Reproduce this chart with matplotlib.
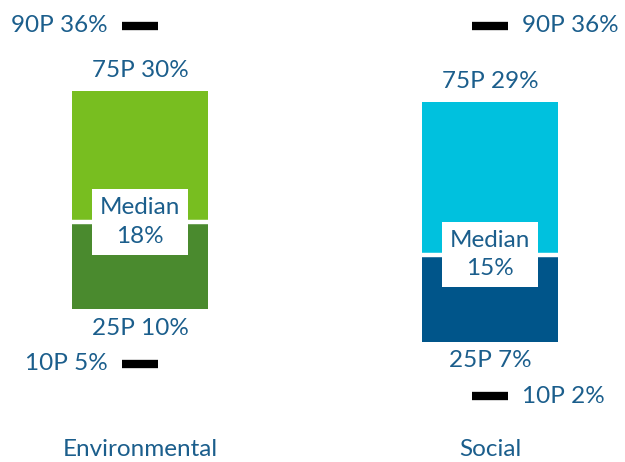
import matplotlib
matplotlib.use("Agg")
import matplotlib.pyplot as plt
import matplotlib.transforms as mtransforms

# data (percent)
categories = ["Environmental", "Social"]
p10 = [5, 2]
p25 = [10, 7]
median = [18, 15]
p75 = [30, 29]
p90 = [36, 36]

low_colors = ["#4a8a2e", "#00558a"]
high_colors = ["#78be20", "#00c1de"]
label_side = ["left", "right"]   # where the 10P / 90P labels go

txt_color = "#1b5e8c"
plt.rcParams["font.family"] = ["Lato", "DejaVu Sans"]
fs = 17.5

fig = plt.figure(figsize=(6.25, 4.62), dpi=100)
ax = fig.add_axes([0, 0, 1, 1])
ax.set_xlim(-0.4, 1.386)
ax.set_ylim(-4.04, 38.38)
ax.axis("off")

bw = 0.389
dash_w = 0.103
xs = list(range(len(categories)))

for i, x in enumerate(xs):
    ax.bar(x, median[i] - p25[i], bottom=p25[i], width=bw,
           color=low_colors[i], linewidth=0)
    ax.bar(x, p75[i] - median[i], bottom=median[i], width=bw,
           color=high_colors[i], linewidth=0)
    ax.hlines(median[i], x - bw / 2, x + bw / 2, color="white", lw=3.2)

    # whisker dashes
    for v in (p10[i], p90[i]):
        ax.hlines(v, x - dash_w / 2, x + dash_w / 2, color="black",
                  lw=6, capstyle="butt")

    # 75P / 25P labels
    ax.annotate(f"75P {p75[i]}%", (x, p75[i]), xytext=(0, 21),
                textcoords="offset pixels", ha="center", va="center",
                color=txt_color, fontsize=fs)
    ax.annotate(f"25P {p25[i]}%", (x, p25[i]), xytext=(0, -19),
                textcoords="offset pixels", ha="center", va="center",
                color=txt_color, fontsize=fs)

    # 10P / 90P labels
    if label_side[i] == "left":
        xe, dx, ha = x - dash_w / 2, -14, "right"
    else:
        xe, dx, ha = x + dash_w / 2, 14, "left"
    ax.annotate(f"90P {p90[i]}%", (xe, p90[i]), xytext=(dx, 0),
                textcoords="offset pixels", ha=ha, va="center",
                color=txt_color, fontsize=fs)
    ax.annotate(f"10P {p10[i]}%", (xe, p10[i]), xytext=(dx, 0),
                textcoords="offset pixels", ha=ha, va="center",
                color=txt_color, fontsize=fs)

    # median box
    ax.text(x, median[i], f"Median\n{median[i]}%", ha="center", va="center",
            color=txt_color, fontsize=fs, linespacing=1.45,
            bbox=dict(boxstyle="square,pad=0.32", fc="white", ec="none"))

# category labels
trans = mtransforms.blended_transform_factory(ax.transData, ax.transAxes)
for i, x in enumerate(xs):
    ax.text(x, 1 - 450 / 462, categories[i], transform=trans, ha="center",
            va="center", color=txt_color, fontsize=fs)

fig.savefig("out.png", dpi=100)
